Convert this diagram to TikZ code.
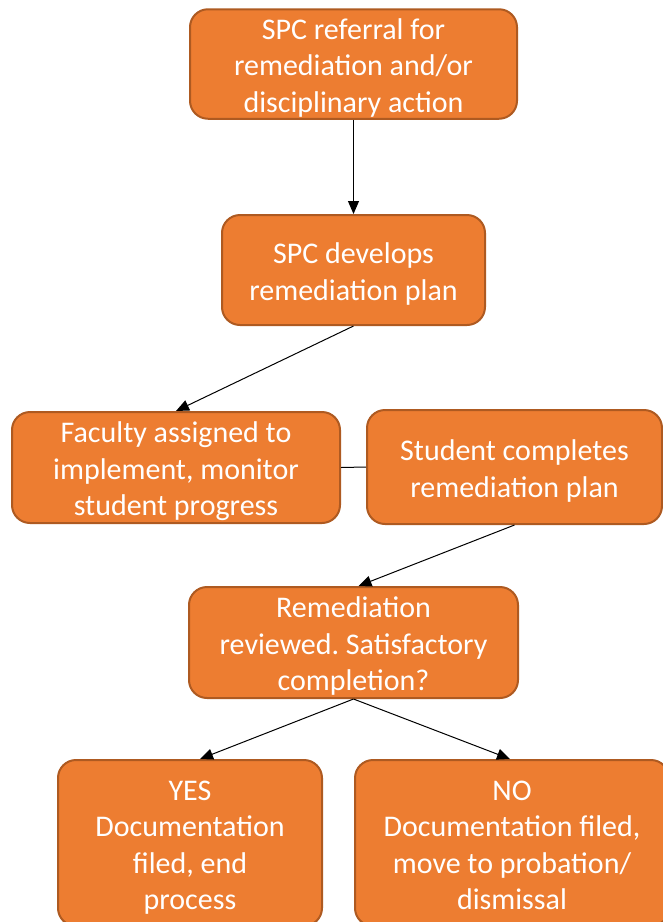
\documentclass[tikz,border=0pt]{standalone}
\usepackage{fontspec}
\setmainfont{Carlito}
\usetikzlibrary{arrows.meta,calc}
\definecolor{boxfill}{RGB}{237,125,49}
\definecolor{boxline}{RGB}{174,90,33}
\newcommand{\boxtext}[1]{\raisebox{-4.5pt}[\height][\depth]{\begin{tabular}{@{}c@{}}#1\end{tabular}}}
\frenchspacing
\begin{document}
\begin{tikzpicture}[x=1pt,y=-1pt,
  box/.style={draw=boxline,fill=boxfill,line width=2pt,rounded corners=18pt,text=white,font=\fontsize{30}{36.5}\selectfont,inner sep=0pt},
  arr/.style={-{Triangle[length=13pt,width=11pt]},line width=1pt},
  link/.style={line width=1pt}]
\useasboundingbox (0,0) rectangle (663,922);
\node[box,minimum width=327pt,minimum height=108pt] (ref) at (353.5,64) {\boxtext{SPC referral for\\remediation and/or\\disciplinary action}};
\node[box,minimum width=263pt,minimum height=110pt] (plan) at (353.5,270) {\boxtext{SPC develops\\remediation plan}};
\node[box,minimum width=328pt,minimum height=111pt] (fac) at (176,467.5) {\boxtext{Faculty assigned to\\implement, monitor\\student progress}};
\node[box,minimum width=295pt,minimum height=114pt] (stu) at (514.5,467) {\boxtext{Student completes\\remediation plan}};
\node[box,minimum width=329pt,minimum height=111pt] (rev) at (353.5,642.5) {\boxtext{Remediation\\reviewed. Satisfactory\\completion?}};
\node[box,minimum width=264pt,minimum height=166pt] (yes) at (190,843) {\boxtext{YES\\Documentation\\filed, end\\process}};
\node[box,minimum width=314pt,minimum height=166pt] (no) at (512,843) {\boxtext{NO\\Documentation filed,\\move to probation/\\dismissal}};
\draw[arr] (ref.south) -- (plan.north);
\draw[arr] (plan.south) -- (fac.north);
\draw[link] (fac.east) -- (stu.west);
\draw[arr] (stu.south) -- ($(rev.north)+(5,0)$);
\draw[arr] (rev.south) -- ($(yes.north)+(10,0)$);
\draw[arr] (rev.south) -- ($(no.north)+(-2,0)$);
\end{tikzpicture}
\end{document}
